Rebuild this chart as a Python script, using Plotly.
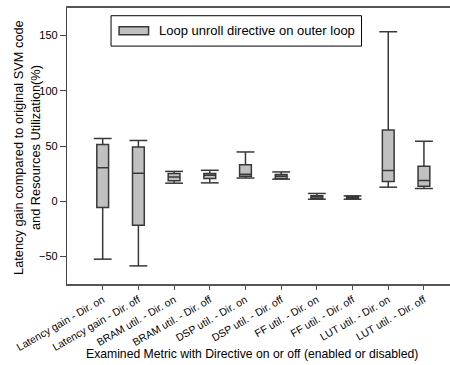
import plotly.graph_objects as go

categories = ["Latency gain - Dir. on", "Latency gain - Dir. off",
              "BRAM util. - Dir. on", "BRAM util. - Dir. off",
              "DSP util. - Dir. on", "DSP util. - Dir. off",
              "FF util. - Dir. on", "FF util. - Dir. off",
              "LUT util. - Dir. on", "LUT util. - Dir. off"]
upper_whisker = [56.8, 55.0, 27.0, 28.0, 44.6, 26.5, 7.0, 4.8, 153.5, 54.3]
q3_values = [51.3, 49.2, 25.0, 25.0, 33.0, 24.2, 5.0, 4.5, 64.6, 31.7]
median_values = [30.2, 25.4, 22.0, 23.5, 24.3, 22.6, 4.0, 3.5, 27.8, 18.7]
q1_values = [-5.7, -21.7, 18.5, 20.5, 22.6, 20.5, 2.5, 2.5, 17.8, 13.6]
lower_whisker = [-52.5, -58.6, 16.3, 16.6, 21.0, 20.0, 1.8, 1.8, 12.7, 11.5]
y_ticks = [-50, 0, 50, 100, 150]
legend_label = "Loop unroll directive on outer loop"
x_title = "Examined Metric with Directive on or off (enabled or disabled)"
y_title = "Latency gain compared to original SVM code<br>and Resources Utilization(%)"

FONT = "Liberation Sans, Arial, sans-serif"
LINE = "#383838"
FILL = "#c0c0c0"

positions = list(range(len(categories)))

fig = go.Figure()
fig.add_trace(go.Box(
    x=positions, q1=q1_values, median=median_values, q3=q3_values,
    lowerfence=lower_whisker, upperfence=upper_whisker,
    width=0.33, whiskerwidth=0, fillcolor=FILL,
    line=dict(color=LINE, width=1.5), boxpoints=False,
    showlegend=False, hoverinfo="skip",
))

# whisker caps
cap_half = 0.25
cx, cy = [], []
for p, lo, hi in zip(positions, lower_whisker, upper_whisker):
    for v in (lo, hi):
        cx += [p - cap_half, p + cap_half, None]
        cy += [v, v, None]
fig.add_trace(go.Scatter(x=cx, y=cy, mode="lines",
                         line=dict(color=LINE, width=1.5),
                         showlegend=False, hoverinfo="skip"))

fig.update_layout(
    width=450, height=365,
    margin=dict(l=67, r=0, t=8, b=81, pad=0, autoexpand=False),
    plot_bgcolor="white", paper_bgcolor="white",
    font=dict(family=FONT, color="black"),
    showlegend=False,
)
fig.update_xaxes(
    range=[-1.0, 9.73], tickmode="array", tickvals=positions, ticktext=categories,
    tickangle=-30, tickfont=dict(size=10.5), ticks="outside", ticklen=4,
    tickcolor="#555", showline=True, linecolor="#555", linewidth=1.5, mirror=True,
    showgrid=False, zeroline=False, automargin=False,
)
fig.update_yaxes(
    range=[-75, 175], tickmode="array", tickvals=y_ticks,
    tickfont=dict(size=11), ticks="outside", ticklen=6, tickcolor="#444",
    showline=True, linecolor="#444", linewidth=1.3, showgrid=False, zeroline=False,
    mirror=False, automargin=False,
)

# axis titles
fig.add_annotation(text=x_title, xref="paper", yref="paper",
                   x=0.482, y=-0.254, xanchor="center", yanchor="middle",
                   showarrow=False, font=dict(size=12.2, family=FONT))
fig.add_annotation(text=y_title, xref="paper", yref="paper", textangle=-90,
                   x=-0.103, y=0.495, xanchor="center", yanchor="middle",
                   showarrow=False, font=dict(size=12.8, family=FONT))

# legend box drawn manually
fig.add_shape(type="rect", xref="paper", yref="paper",
              x0=0.115, x1=0.769, y0=0.862, y1=0.972,
              line=dict(color="black", width=1), fillcolor="white")
fig.add_shape(type="rect", xref="paper", yref="paper",
              x0=0.136, x1=0.213, y0=0.903, y1=0.932,
              line=dict(color=LINE, width=1.5), fillcolor=FILL)
fig.add_annotation(text=legend_label, xref="paper", yref="paper",
                   x=0.234, y=0.917, xanchor="left", yanchor="middle",
                   showarrow=False, font=dict(size=13, family=FONT))

fig.write_html("out.html")
